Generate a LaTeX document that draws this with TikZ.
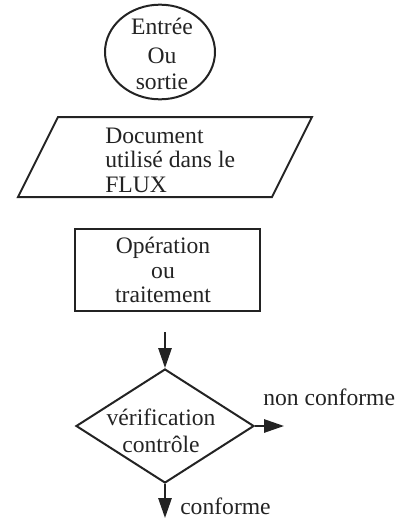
\documentclass[tikz,border=0pt]{standalone}
\usepackage{fontspec}
\setmainfont{Liberation Serif}
\usetikzlibrary{shapes.geometric,arrows.meta}
\definecolor{ink}{RGB}{35,35,35}
\tikzset{
  shapeline/.style={draw=ink,line width=1.5pt},
  txt/.style={text=ink,font=\fontsize{17.7pt}{21pt}\selectfont,inner sep=0pt,anchor=base},
  txtl/.style={txt,anchor=base west},
  flow/.style={draw=ink,line width=1.4pt,-{Triangle[length=15pt,width=10pt]}}
}
\begin{document}
\begin{tikzpicture}[x=0.75pt,y=-0.75pt]
\useasboundingbox (0,0) rectangle (403,518);
% ellipse
\node[shapeline,ellipse,minimum width=82.5pt,minimum height=71pt,inner sep=0pt] (io) at (160,52) {};
\node[txt] (io1) at (162,34) {Entrée};
\node[txt] (io2) at (162,63) {Ou};
\node[txt] (io3) at (162,89) {sortie};
% parallelogram
\coordinate (p1) at (58,117);
\coordinate (p2) at (312,117);
\coordinate (p3) at (272,197);
\coordinate (p4) at (18,197);
\draw[shapeline] (p1) -- (p2) -- (p3) -- (p4) -- cycle;
\node[txtl] (d1) at (105,143) {Document};
\node[txtl] (d2) at (105,167) {utilisé dans le};
\node[txtl] (d3) at (105,192) {FLUX};
% rectangle
\coordinate (r1) at (75,229);
\coordinate (r2) at (260,311);
\draw[shapeline] (r1) rectangle (r2);
\node[txt] (o1) at (163,253) {Opération};
\node[txt] (o2) at (163,278) {ou};
\node[txt] (o3) at (163,302) {traitement};
% diamond
\node[shapeline,diamond,minimum width=133.5pt,minimum height=85.5pt,inner sep=0pt] (dia) at (165,426) {};
\node[txt] (v1) at (161,425) {vérification};
\node[txt] (v2) at (161,452) {contrôle};
% arrows
\coordinate (ain) at (165,332);
\coordinate (aright) at (284,426);
\coordinate (adown) at (165,518);
\draw[flow] (ain) -- (dia.north);
\draw[flow] (dia.east) -- (aright);
\draw[flow] (dia.south) -- (adown);
\node[txtl] (nc) at (263,405) {non conforme};
\node[txtl] (c) at (180,514) {conforme};
\end{tikzpicture}
\end{document}
